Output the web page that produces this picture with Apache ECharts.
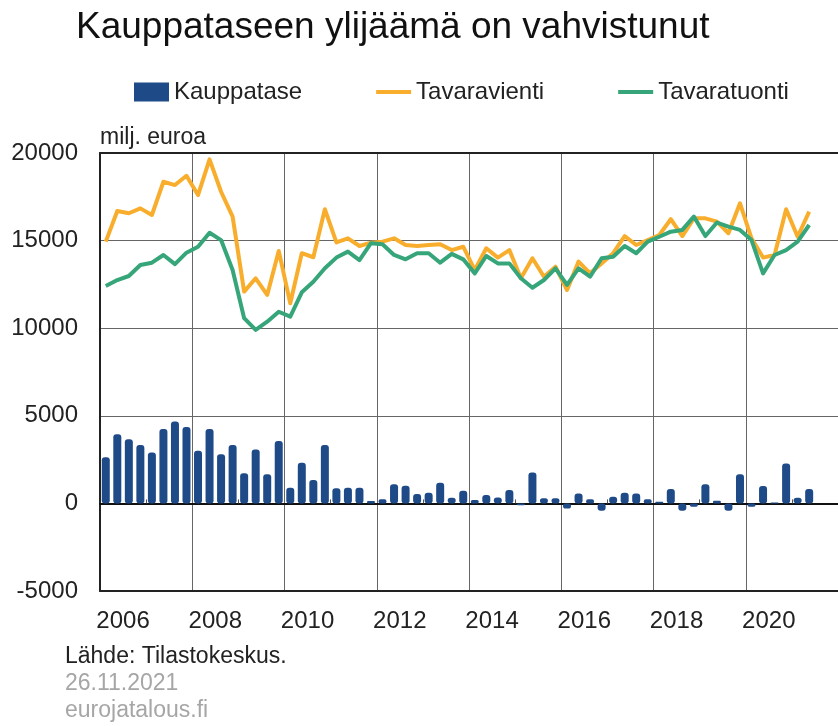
<!DOCTYPE html>
<html>
<head>
<meta charset="utf-8">
<script src="https://cdn.jsdelivr.net/npm/echarts@6/dist/echarts.min.js"></script>
<style>
  html, body { margin: 0; padding: 0; background: #fff; }
  #chart { width: 838px; height: 726px; }
</style>
</head>
<body>
<div id="chart"></div>
<script>
// vuodet x-akselille, neljännekset rakennetaan näistä
const years = ['2006', '2007', '2008', '2009', '2010', '2011', '2012', '2013',
  '2014', '2015', '2016', '2017', '2018', '2019', '2020', '2021']
const yTicks = [-5000, 0, 5000, 10000, 15000, 20000]

// milj. euroa, 2006Q1 - 2021Q2
const kauppatase = [
  2630, 3940, 3660, 3330, 2910, 4250, 4680, 4360,
  3010, 4250, 2800, 3330, 1720, 3070, 1660, 3560,
  900, 2320, 1340, 3330, 860, 890, 890, 130,
  230, 1090, 1010, 530, 610, 1180, 320, 720,
  190, 480, 340, 760, -110, 1770, 290, 290,
  -290, 570, 230, -420, 380, 610, 570, 230,
  100, 820, -420, -190, 1100, 150, -420, 1660,
  -190, 990, 50, 2280, 320, 820
]
const tavaravienti = [
  14940, 16690, 16560, 16840, 16460, 18360, 18170, 18700,
  17600, 19640, 17790, 16370, 12090, 12850, 11900, 14410,
  11420, 14280, 14050, 16790, 14900, 15130, 14690, 14880,
  14940, 15130, 14750, 14690, 14750, 14790, 14460, 14650,
  13320, 14560, 14030, 14460, 12850, 13990, 12940, 13510,
  12180, 13800, 13130, 13700, 14280, 15260, 14750, 15030,
  15320, 16220, 15260, 16270, 16270, 16080, 15420, 17130,
  15130, 14030, 14180, 16790, 15220, 16650
]
const tavaratuonti = [
  12410, 12750, 12980, 13610, 13740, 14180, 13660, 14310,
  14650, 15450, 15030, 13320, 10570, 9900, 10370, 10940,
  10660, 12050, 12650, 13420, 14030, 14370, 13890, 14850,
  14790, 14180, 13930, 14280, 14280, 13740, 14240, 13930,
  13130, 14120, 13700, 13700, 12850, 12310, 12750, 13420,
  12470, 13420, 12940, 13990, 14080, 14690, 14280, 14940,
  15220, 15510, 15610, 16370, 15260, 16030, 15800, 15610,
  15030, 13130, 14180, 14460, 14940, 15890
]

const quarters = []
years.forEach(y => {
  for (let q = 1; q <= 4; q++) quarters.push(y + 'Q' + q)
})

const font = 'Liberation Sans, Arial, sans-serif'
// legendan viivaikoni: ohut palkki 35x19 laatikon keskellä
const lineIcon = 'path://M0,0L35,0Z M0,19L35,19Z M0,7.5L35,7.5L35,11.5L0,11.5Z'

const chart = echarts.init(document.getElementById('chart'))

chart.setOption({
  animation: false,
  textStyle: { fontFamily: font },
  grid: { left: 100, right: -11, top: 153, bottom: 135 },
  legend: {
    left: 129,
    top: 75,
    itemWidth: 35,
    itemHeight: 19,
    itemGap: 74,
    textStyle: { fontSize: 24, color: '#222', fontFamily: font },
    data: [
      { name: 'Kauppatase', icon: 'rect' },
      { name: 'Tavaravienti', icon: lineIcon },
      { name: 'Tavaratuonti', icon: lineIcon }
    ]
  },
  graphic: [
    { type: 'text', left: 76, top: 9, style: { text: 'Kauppataseen ylijäämä on vahvistunut', font: '37px ' + font, fill: '#111' } },
    { type: 'text', left: 100, top: 126, style: { text: 'milj. euroa', font: '23px ' + font, fill: '#222' } },
    { type: 'text', left: 65, top: 645, style: { text: 'Lähde: Tilastokeskus.', font: '23px ' + font, fill: '#222' } },
    { type: 'text', left: 65, top: 672, style: { text: '26.11.2021', font: '23px ' + font, fill: '#a6a6a6' } },
    { type: 'text', left: 65, top: 699, style: { text: 'eurojatalous.fi', font: '23px ' + font, fill: '#a6a6a6' } }
  ],
  xAxis: [
    {
      // neljännekset, viiva nollan kohdalla
      type: 'category',
      data: quarters,
      position: 'top',
      axisLine: { onZero: true, lineStyle: { color: '#111', width: 2 } },
      axisTick: { show: true, inside: false, length: 4, interval: i => i % 8 === 4, lineStyle: { color: '#555' } },
      axisLabel: { show: false },
      splitLine: { show: false }
    },
    {
      type: 'category',
      data: years,
      position: 'bottom',
      axisLine: { onZero: false, lineStyle: { color: '#222', width: 2 } },
      axisTick: { show: false },
      axisLabel: { interval: 1, fontSize: 24, color: '#222', margin: 18 },
      splitLine: { show: true, interval: 1, lineStyle: { color: '#666', width: 1 } }
    },
    {
      type: 'category',
      data: years,
      position: 'top',
      axisLine: { onZero: false, lineStyle: { color: '#222', width: 2 } },
      axisTick: { show: false },
      axisLabel: { show: false }
    }
  ],
  yAxis: {
    type: 'value',
    min: yTicks[0],
    max: yTicks[yTicks.length - 1],
    interval: 5000,
    axisLine: { show: true, lineStyle: { color: '#222', width: 2 } },
    axisTick: { show: false },
    axisLabel: { fontSize: 24, color: '#222', margin: 22, formatter: v => String(v) },
    splitLine: { lineStyle: { color: '#666', width: 1 } }
  },
  series: [
    {
      name: 'Kauppatase',
      type: 'bar',
      xAxisIndex: 0,
      data: kauppatase,
      barWidth: 8,
      itemStyle: { color: '#1f4a88', borderRadius: 3 }
    },
    {
      name: 'Tavaravienti',
      type: 'line',
      xAxisIndex: 0,
      data: tavaravienti,
      symbol: 'none',
      lineStyle: { color: '#f8ae2c', width: 4, join: 'round' },
      itemStyle: { color: '#f8ae2c' }
    },
    {
      name: 'Tavaratuonti',
      type: 'line',
      xAxisIndex: 0,
      data: tavaratuonti,
      symbol: 'none',
      lineStyle: { color: '#36a67a', width: 4, join: 'round' },
      itemStyle: { color: '#36a67a' }
    }
  ]
})
</script>
</body>
</html>
